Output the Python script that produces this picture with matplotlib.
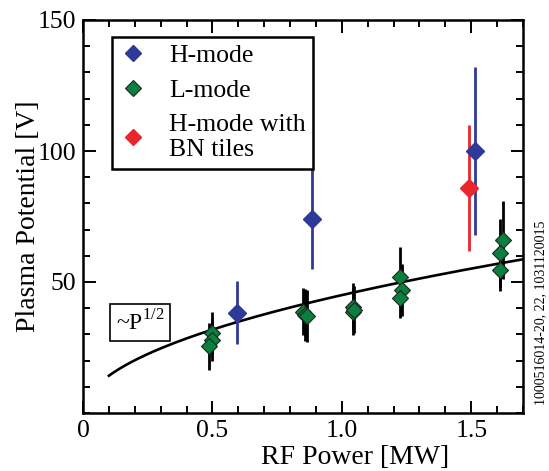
import matplotlib
matplotlib.use("Agg")
import matplotlib.pyplot as plt
import numpy as np
from matplotlib.lines import Line2D

plt.rcParams['font.family'] = ['Liberation Serif', 'DejaVu Serif']
plt.rcParams['mathtext.fontset'] = 'custom'
plt.rcParams['mathtext.rm'] = 'Liberation Serif'

# H-mode points
h_power = [0.595, 0.884, 1.513]
h_pot = [38.2, 74.0, 100.0]
h_err = [12.0, 19.0, 32.0]

# H-mode with BN tiles
bn_power = [1.49]
bn_pot = [86.0]
bn_err = [24.0]

# L-mode points
l_power = [0.497, 0.497, 0.485, 0.851, 0.858, 0.864, 1.044, 1.044, 1.046,
           1.224, 1.234, 1.226, 1.623, 1.613, 1.613]
l_pot = [30.5, 28.0, 25.5, 38.7, 37.4, 37.0, 40.6, 38.7, 39.5,
         52.0, 47.0, 43.8, 66.0, 61.0, 54.6]
l_err = [8.0, 8.0, 9.0, 9.0, 10.0, 10.0, 9.0, 9.0, 9.0,
         11.5, 10.0, 7.5, 15.0, 13.0, 8.0]

# ~P^1/2 fit
fit_coef = 45.0
fit_range = [0.1, 1.7]

blue = '#2e3a97'
green = '#0b7f3f'
red = '#e8262c'

fig = plt.figure(figsize=(5.49, 4.71), dpi=100)
ax = fig.add_axes([83/549, 58/471, 440/549, 393/471])

p = np.linspace(fit_range[0], fit_range[1], 200)
ax.plot(p, fit_coef*np.sqrt(p), color='black', lw=1.9, zorder=2)

ax.errorbar(l_power, l_pot, yerr=l_err, fmt='none', ecolor='black', elinewidth=2.0, zorder=3)
ax.errorbar(h_power, h_pot, yerr=h_err, fmt='none', ecolor=blue, elinewidth=2.0, zorder=3)
ax.errorbar(bn_power, bn_pot, yerr=bn_err, fmt='none', ecolor=red, elinewidth=2.0, zorder=3)

ax.plot(l_power, l_pot, 'D', color=green, mec='#1a2a1a', mew=0.8, ms=8.5, ls='none', zorder=4)
ax.plot(h_power, h_pot, 'D', color=blue, mec=blue, ms=9, ls='none', zorder=4)
ax.plot(bn_power, bn_pot, 'D', color=red, mec=red, ms=9, ls='none', zorder=4)

ax.set_xlim(0, 1.7)
ax.set_ylim(0, 150)
ax.set_xticks([0, 0.5, 1.0, 1.5])
ax.set_xticklabels(['0', '0.5', '1.0', '1.5'])
ax.set_xticks(np.arange(0, 1.71, 0.1), minor=True)
ax.set_yticks([50, 100, 150])
ax.set_yticks(np.arange(0, 151, 10), minor=True)
ax.tick_params(which='both', direction='in', top=True, right=True, width=1.4, labelsize=18.5, pad=5)
ax.tick_params(which='major', length=9)
ax.tick_params(which='minor', length=5)
for s in ax.spines.values():
    s.set_linewidth(1.8)

ax.set_xlabel('RF Power [MW]', fontsize=20)
ax.xaxis.set_label_coords(0.618, -0.082)
ax.set_ylabel('Plasma Potential [V]', fontsize=20)
ax.yaxis.set_label_coords(-0.095, 0.5)

handles = [Line2D([], [], marker='D', color=blue, ls='none', ms=8),
           Line2D([], [], marker='D', color=green, mec='#1a2a1a', mew=0.8, ls='none', ms=8),
           Line2D([], [], marker='D', color=red, ls='none', ms=8)]
leg = ax.legend(handles, ['H-mode', 'L-mode', 'H-mode with\nBN tiles'], loc='upper left',
                bbox_to_anchor=(0.0666, 0.9575), borderaxespad=0, fontsize=18.5,
                fancybox=False, edgecolor='black', framealpha=1, handlelength=1.0,
                handletextpad=0.9, labelspacing=0.45, borderpad=0.3)
leg.get_frame().set_linewidth(1.8)

ax.text(0.075, 0.21, r'~P$^{\mathrm{1/2}}$', transform=ax.transAxes, fontsize=17,
        bbox=dict(boxstyle='square,pad=0.25', fc='white', ec='black', lw=1.2))

fig.text(0.985, 0.335, '1000516014-20, 22, 1031120015', rotation=90, fontsize=10,
         ha='center', va='center')

fig.savefig('out.png', dpi=100)
